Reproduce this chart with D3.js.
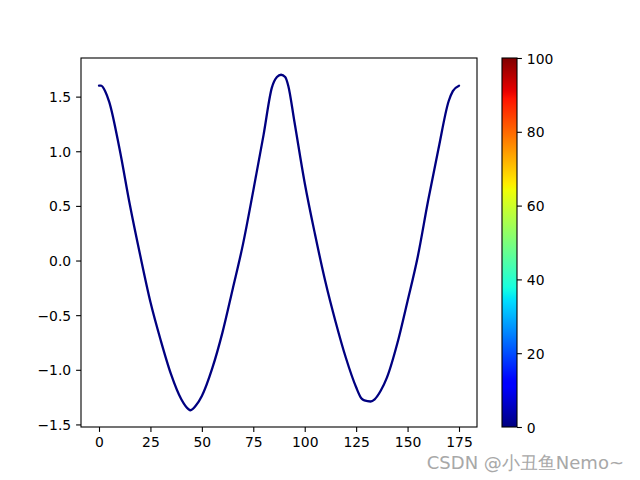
<!DOCTYPE html>
<html>
<head>
<meta charset="utf-8">
<script src="https://cdn.jsdelivr.net/npm/d3@7"></script>
<style>
  body { margin: 0; background: #fff; }
  svg text { font-family: "DejaVu Sans", sans-serif; }
  .tick text { font-size: 13.9px; fill: #000; }
  .tick line { stroke: #000; stroke-width: 1.1; }
  .domain { display: none; }
</style>
</head>
<body>
<script>
// values
var xs = [0, 1, 3, 5, 10, 15, 20, 25, 30, 35, 40, 42, 44.5, 47, 50, 55, 60, 65, 70, 75, 80, 84, 86.5, 88.5, 90.5, 92,
          95, 100, 105, 110, 115, 120, 125, 127.5, 129, 132, 134, 137, 140, 145, 150, 155, 160, 165, 170, 172, 175];
var ys = [1.60, 1.60, 1.55, 1.45, 1.02, 0.51, 0.05, -0.38, -0.73, -1.04, -1.27, -1.33, -1.37, -1.33, -1.24, -0.99, -0.66, -0.26, 0.15, 0.64, 1.15, 1.58, 1.68, 1.70, 1.68, 1.60,
          1.27, 0.71, 0.24, -0.19, -0.56, -0.89, -1.16, -1.26, -1.28, -1.29, -1.27, -1.19, -1.07, -0.76, -0.37, 0.04, 0.55, 1.02, 1.46, 1.55, 1.60];
var xTicks = [0, 25, 50, 75, 100, 125, 150, 175];
var yTicks = [-1.5, -1.0, -0.5, 0.0, 0.5, 1.0, 1.5];
var cbTicks = [0, 20, 40, 60, 80, 100];
var cbRange = [0, 100];

var svg = d3.select("body").append("svg")
    .attr("width", 640)
    .attr("height", 480);

var axLeft = 81, axRight = 477, axTop = 58, axBottom = 427;

var xMin = d3.min(xs), xMax = d3.max(xs);
var yMin = d3.min(ys), yMax = d3.max(ys);
var xPad = (xMax - xMin) * 0.05, yPad = (yMax - yMin) * 0.05;

var x = d3.scaleLinear().domain([xMin - xPad, xMax + xPad]).range([axLeft, axRight]);
var y = d3.scaleLinear().domain([yMin - yPad, yMax + yPad]).range([axBottom, axTop]);

var fmtMinus = function(s) { return s.replace("-", "\u2212"); };

var xAxisG = svg.append("g")
    .attr("transform", "translate(0," + axBottom + ")")
    .call(d3.axisBottom(x).tickValues(xTicks).tickSize(4.9).tickPadding(4.9).tickFormat(d3.format("d")));
xAxisG.selectAll(".tick text").attr("dy", null).attr("dominant-baseline", "hanging");

var yAxisG = svg.append("g")
    .attr("transform", "translate(" + axLeft + ",0)")
    .call(d3.axisLeft(y).tickValues(yTicks).tickSize(4.9).tickPadding(4.9)
        .tickFormat(function(d) { return fmtMinus(d3.format(".1f")(d)); }));
yAxisG.selectAll(".tick text").attr("dy", null).attr("dominant-baseline", "central");

var line = d3.line()
    .x(function(d, i) { return x(xs[i]); })
    .y(function(d) { return y(d); })
    .curve(d3.curveMonotoneX);

svg.append("path")
    .datum(ys)
    .attr("d", line)
    .attr("fill", "none")
    .attr("stroke", "#000080")
    .attr("stroke-width", 2.3)
    .attr("stroke-linejoin", "round")
    .attr("stroke-linecap", "round");

svg.append("rect")
    .attr("x", axLeft).attr("y", axTop)
    .attr("width", axRight - axLeft).attr("height", axBottom - axTop)
    .attr("fill", "none").attr("stroke", "#000").attr("stroke-width", 1.1);

// colorbar with jet colormap
function jet(t) {
    var r = d3.scaleLinear().domain([0, 0.35, 0.66, 0.89, 1]).range([0, 0, 1, 1, 0.5]).clamp(true)(t);
    var g = d3.scaleLinear().domain([0, 0.125, 0.375, 0.64, 0.91, 1]).range([0, 0, 1, 1, 0, 0]).clamp(true)(t);
    var b = d3.scaleLinear().domain([0, 0.11, 0.34, 0.65, 1]).range([0.5, 1, 1, 0, 0]).clamp(true)(t);
    return d3.rgb(r * 255, g * 255, b * 255).toString();
}

var cbLeft = 502, cbRight = 517;
var cbY = d3.scaleLinear().domain(cbRange).range([axBottom, axTop]);

var grad = svg.append("defs").append("linearGradient")
    .attr("id", "jet")
    .attr("x1", 0).attr("y1", 1).attr("x2", 0).attr("y2", 0);
grad.selectAll("stop")
    .data(d3.range(0, 1.0001, 0.01))
    .join("stop")
    .attr("offset", function(d) { return d; })
    .attr("stop-color", function(d) { return jet(d); });

svg.append("rect")
    .attr("x", cbLeft).attr("y", axTop)
    .attr("width", cbRight - cbLeft).attr("height", axBottom - axTop)
    .attr("fill", "url(#jet)")
    .attr("stroke", "#000").attr("stroke-width", 1.1);

var cbAxis = svg.append("g")
    .attr("transform", "translate(" + cbRight + ",0)")
    .call(d3.axisRight(cbY).tickValues(cbTicks).tickSize(4.9).tickPadding(4.9).tickFormat(d3.format("d")));
cbAxis.selectAll(".tick text").attr("dy", null).attr("dominant-baseline", "central");

svg.selectAll("g").attr("font-family", null).attr("font-size", null);

svg.append("text")
    .attr("x", 624).attr("y", 469)
    .attr("text-anchor", "end")
    .attr("font-size", 18)
    .attr("fill", "#a8a8a8")
    .text("CSDN @小丑鱼Nemo~");
</script>
</body>
</html>
